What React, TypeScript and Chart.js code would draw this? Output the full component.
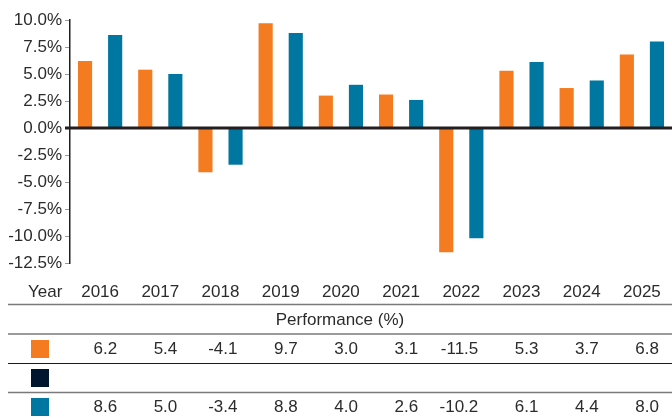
import React, { useEffect, useRef } from "react";
import { Chart, registerables } from "chart.js";

Chart.register(...registerables);

const years = ["2016", "2017", "2018", "2019", "2020", "2021", "2022", "2023", "2024", "2025"];
const seriesOrange: number[] = [6.2, 5.4, -4.1, 9.7, 3.0, 3.1, -11.5, 5.3, 3.7, 6.8];
const seriesDark: (number | null)[] = [null, null, null, null, null, null, null, null, null, null];
const seriesBlue: number[] = [8.6, 5.0, -3.4, 8.8, 4.0, 2.6, -10.2, 6.1, 4.4, 8.0];
const yTickValues = [10, 7.5, 5, 2.5, 0, -2.5, -5, -7.5, -10, -12.5];
const tableTitle = "Performance (%)";
const yearLabel = "Year";

const ORANGE = "#F47B20";
const DARK = "#00162E";
const BLUE = "#0077A0";
const TEXT = "#2b2b2b";
const FONT = "'Liberation Sans', Arial, Helvetica, sans-serif";

const tablePlugin = {
  id: "perfTable",
  afterDatasetsDraw(chart: any) {
    const ctx = chart.ctx as CanvasRenderingContext2D;
    const y = chart.scales.y;
    const y0 = y.getPixelForValue(0);
    ctx.save();
    ctx.strokeStyle = "#231f20";
    ctx.lineWidth = 3;
    ctx.beginPath();
    ctx.moveTo(65, y0);
    ctx.lineTo(chart.width, y0);
    ctx.stroke();
    ctx.restore();
  },
  afterDraw(chart: any) {
    const ctx = chart.ctx as CanvasRenderingContext2D;
    const xs = chart.scales.x;
    const W = chart.width;
    const left = 8;
    ctx.save();
    ctx.font = `17px ${FONT}`;
    ctx.fillStyle = TEXT;
    ctx.textBaseline = "middle";

    // header row
    ctx.textAlign = "left";
    ctx.fillText(yearLabel, 28, 292);
    ctx.textAlign = "center";
    years.forEach((yr, i) => {
      ctx.fillText(yr, xs.getPixelForValue(i), 292);
    });

    const hline = (yy: number, color: string, w: number) => {
      ctx.strokeStyle = color;
      ctx.lineWidth = w;
      ctx.beginPath();
      ctx.moveTo(left, yy);
      ctx.lineTo(W, yy);
      ctx.stroke();
    };
    hline(304.5, "#7a7a7a", 1.5);
    ctx.fillStyle = TEXT;
    ctx.textAlign = "center";
    ctx.fillText(tableTitle, (left + W) / 2, 320);
    hline(334, "#7a7a7a", 1.5);
    hline(363.5, "#1a1a1a", 1);
    hline(392.5, "#7a7a7a", 1.5);

    const rows: { color: string; data: (number | null)[]; cy: number }[] = [
      { color: ORANGE, data: seriesOrange, cy: 349 },
      { color: DARK, data: seriesDark, cy: 378 },
      { color: BLUE, data: seriesBlue, cy: 407 },
    ];
    rows.forEach((r) => {
      ctx.fillStyle = r.color;
      ctx.fillRect(31, r.cy - 9, 18, 18);
      ctx.fillStyle = TEXT;
      ctx.textAlign = "right";
      r.data.forEach((v, i) => {
        if (v === null || v === undefined) return;
        ctx.fillText(v.toFixed(1), xs.getPixelForValue(i) + 17, r.cy);
      });
    });
    ctx.restore();
  },
};

export default function App() {
  const ref = useRef<HTMLCanvasElement | null>(null);
  useEffect(() => {
    if (!ref.current) return;
    Chart.defaults.font.family = FONT;
    const chart = new Chart(ref.current, {
      type: "bar",
      data: {
        labels: years,
        datasets: [
          { label: "Series 1", data: seriesOrange, backgroundColor: ORANGE, borderWidth: 0 },
          { label: "Series 3", data: seriesBlue, backgroundColor: BLUE, borderWidth: 0 },
        ],
      },
      options: {
        responsive: false,
        animation: false,
        devicePixelRatio: 1,
        layout: { padding: { top: 20, bottom: 155, left: 0, right: 0 } },
        plugins: { legend: { display: false }, tooltip: { enabled: false } },
        datasets: { bar: { categoryPercentage: 1, barPercentage: 0.47 } },
        scales: {
          x: {
            type: "category",
            display: false,
            offset: true,
            grid: { display: false },
          },
          y: {
            min: -12.5,
            max: 10,
            afterBuildTicks: (scale: any) => {
              scale.ticks = yTickValues.map((v) => ({ value: v }));
            },
            afterFit: (scale: any) => {
              scale.width = 70;
            },
            ticks: {
              padding: 3,
              color: TEXT,
              font: { size: 17, family: FONT },
              callback: (v: any) => `${Number(v).toFixed(1)}%`,
            },
            grid: {
              drawOnChartArea: false,
              drawTicks: true,
              tickLength: 5,
              tickColor: "#9a9a9a",
              tickWidth: 1,
            },
            border: { display: true, color: "#231f20", width: 1.5 },
          },
        },
      },
      plugins: [tablePlugin],
    } as any);
    return () => chart.destroy();
  }, []);
  return (
    <div style={{ position: "fixed", left: 0, top: 0, width: 672, height: 418, background: "#fff" }}>
      <canvas ref={ref} width={672} height={418} style={{ width: 672, height: 418, display: "block" }} />
    </div>
  );
}
